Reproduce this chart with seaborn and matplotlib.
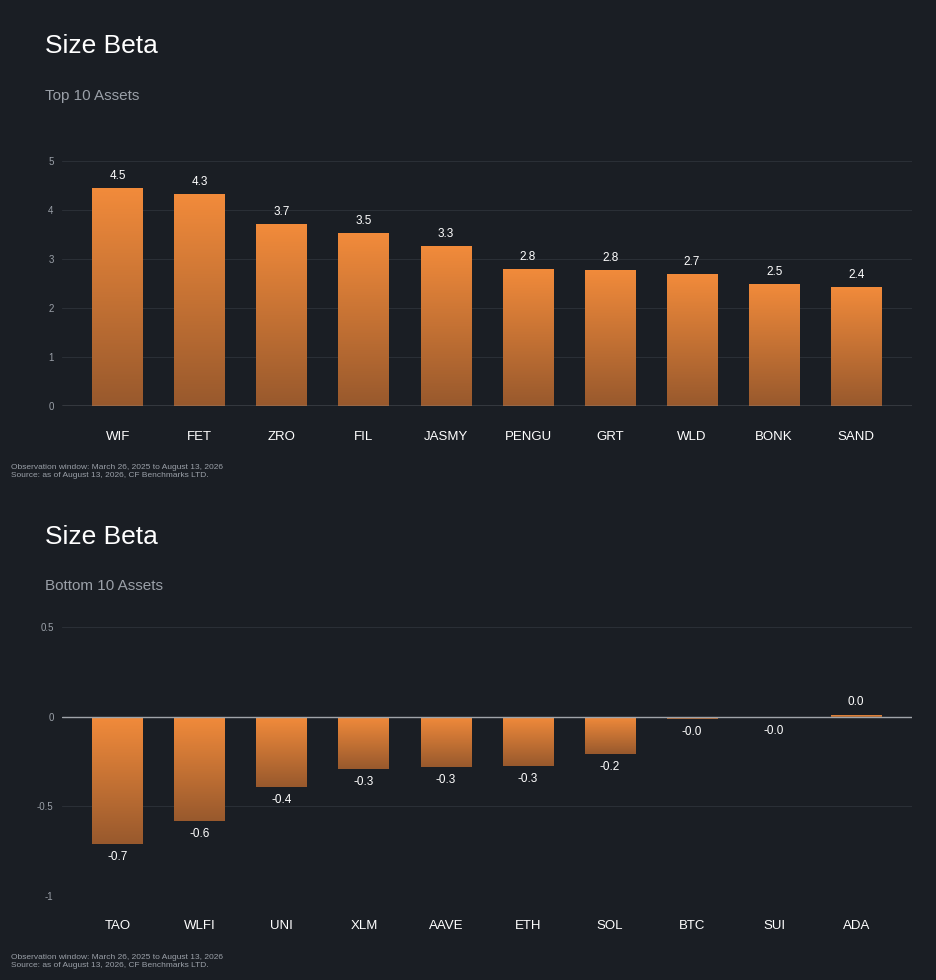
import matplotlib
matplotlib.use("Agg")
import matplotlib.pyplot as plt
import seaborn as sns
import numpy as np
import pandas as pd

top_assets = ["WIF", "FET", "ZRO", "FIL", "JASMY", "PENGU", "GRT", "WLD", "BONK", "SAND"]
top_beta = [4.45, 4.33, 3.71, 3.53, 3.27, 2.80, 2.78, 2.69, 2.49, 2.43]
bottom_assets = ["TAO", "WLFI", "UNI", "XLM", "AAVE", "ETH", "SOL", "BTC", "SUI", "ADA"]
bottom_beta = [-0.71, -0.58, -0.39, -0.29, -0.28, -0.275, -0.21, -0.012, -0.004, 0.01]

BG = "#1a1e24"
GRID = "#2a2f36"
TXT = "#ffffff"
SUB = "#9aa0a8"

sns.set_theme(style="dark")
plt.rcParams["font.family"] = ["Liberation Sans", "DejaVu Sans"]

fig = plt.figure(figsize=(9.36, 9.8), dpi=100, facecolor=BG)
W, H = 936, 980

grad = np.linspace(0, 1, 256).reshape(-1, 1)
cmap = matplotlib.colors.LinearSegmentedColormap.from_list("g", ["#98592d", "#f28b3b"])


def panel(y_top, y_bot, assets, vals, ylim, yticks, yticklabels, subtitle, title_y, sub_y, foot_y, fmt_off):
    ax = fig.add_axes([62 / W, 1 - y_bot / H, (912 - 62) / W, (y_bot - y_top) / H])
    ax.set_facecolor(BG)
    df = pd.DataFrame({"asset": assets, "beta": vals})
    sns.barplot(data=df, x="asset", y="beta", ax=ax, color="#f28b3b", width=0.62, saturation=1)
    for p, v in zip(ax.patches, vals):
        x0, w = p.get_x(), p.get_width()
        y0, y1 = (0, v) if v >= 0 else (v, 0)
        p.set_facecolor("none")
        p.set_edgecolor("none")
        if v >= 0:
            img = grad
        else:
            img = grad
        im = ax.imshow(img, extent=[x0, x0 + w, y0, y1], origin="lower", cmap=cmap,
                       aspect="auto", zorder=2, vmin=0, vmax=1)
        im.set_clip_path(p)
        label = f"{v:.1f}"
        if label == "-0.0" or (v < 0 and abs(v) < 0.05):
            label = "-0.0"
        if v >= 0:
            ax.text(x0 + w / 2, v + fmt_off, label, ha="center", va="bottom", color=TXT, fontsize=8.5)
        else:
            ax.text(x0 + w / 2, v - fmt_off, label, ha="center", va="top", color=TXT, fontsize=8.5)
    ax.set_xlim(-0.68, len(assets) - 0.32)
    ax.set_ylim(*ylim)
    ax.set_yticks(yticks)
    ax.set_yticklabels(yticklabels)
    ax.grid(axis="y", color=GRID, linewidth=0.8)
    ax.set_axisbelow(True)
    ax.axhline(0, color="#a0a4aa", linewidth=1, zorder=3)
    for s in ax.spines.values():
        s.set_visible(False)
    ax.tick_params(axis="y", colors=SUB, labelsize=7, length=0, pad=6)
    ax.tick_params(axis="x", colors=TXT, labelsize=9.5, length=0, pad=18 if ylim[0] == 0 else 0)
    ax.set_xlabel("")
    ax.set_ylabel("")
    fig.text(45 / W, 1 - title_y / H, "Size Beta", color=TXT, fontsize=19, va="center")
    fig.text(45 / W, 1 - sub_y / H, subtitle, color=SUB, fontsize=11, va="center")
    fig.text(11 / W, 1 - foot_y / H,
             "Observation window: March 26, 2025 to August 13, 2026\nSource: as of August 13, 2026, CF Benchmarks LTD.",
             color=SUB, fontsize=6, va="center", linespacing=1.2)
    return ax


panel(161, 406, top_assets, top_beta, (0, 5), [0, 1, 2, 3, 4, 5],
      ["0", "1", "2", "3", "4", "5"], "Top 10 Assets", 46, 96, 471, 0.12)
ax2 = panel(627, 896, bottom_assets, bottom_beta, (-1, 0.5), [-1, -0.5, 0, 0.5],
            ["-1", "-0.5", "0", "0.5"], "Bottom 10 Assets", 537, 586, 961, 0.04)
ax2.xaxis.set_ticks_position("bottom")
for lbl in ax2.get_xticklabels():
    lbl.set_y(0)
ax2.tick_params(axis="x", pad=17)

fig.savefig("out.png", dpi=100, facecolor=BG)
